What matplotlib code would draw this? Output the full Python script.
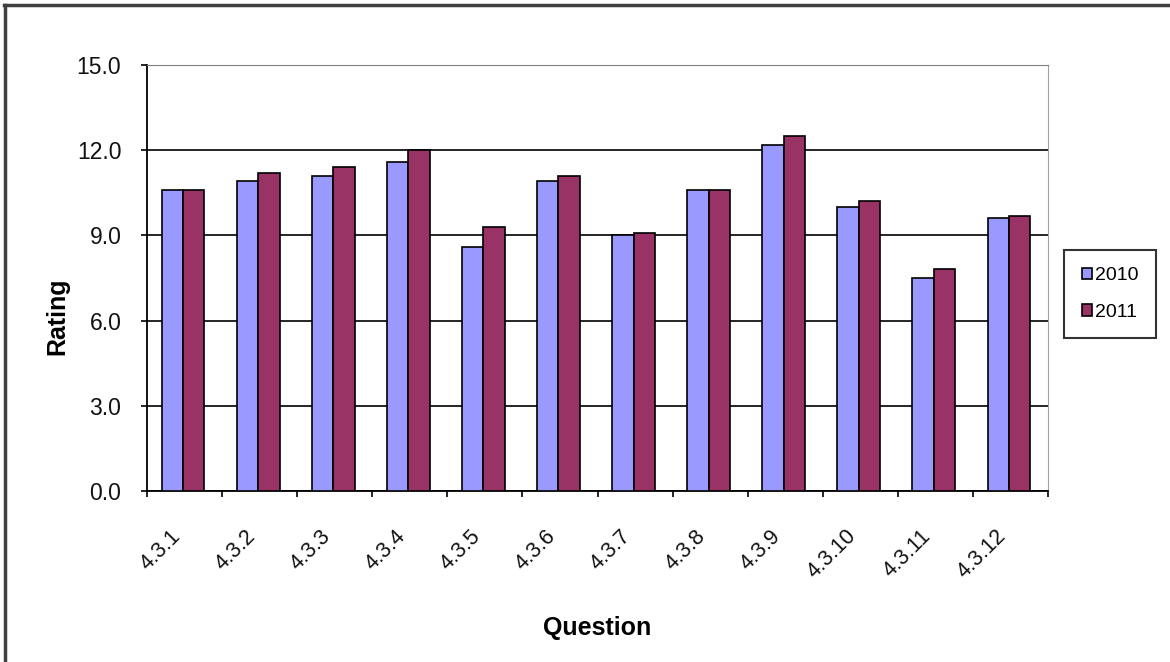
import numpy as np
import matplotlib.pyplot as plt
from matplotlib.lines import Line2D

plt.rcParams['font.family'] = ['Liberation Sans', 'DejaVu Sans']

# Data
questions = ['4.3.1', '4.3.2', '4.3.3', '4.3.4', '4.3.5', '4.3.6',
             '4.3.7', '4.3.8', '4.3.9', '4.3.10', '4.3.11', '4.3.12']
rating_2010 = [10.6, 10.9, 11.1, 11.6, 8.6, 10.9, 9.0, 10.6, 12.2, 10.0, 7.5, 9.6]
rating_2011 = [10.6, 11.2, 11.4, 12.0, 9.3, 11.1, 9.1, 10.6, 12.5, 10.2, 7.8, 9.7]
series_labels = ['2010', '2011']
yticks = [0, 3, 6, 9, 12, 15]

W, H = 1170, 662
fig = plt.figure(figsize=(W / 100, H / 100), dpi=100)
ax = fig.add_axes([147 / W, 1 - 491 / H, (1048 - 147) / W, (491 - 65) / H])

x = np.arange(len(questions))
bw = 0.285
ax.bar(x - bw / 2 - 0.02, rating_2010, bw, color='#9999ff', edgecolor='black',
       linewidth=1.2, label=series_labels[0], zorder=3)
ax.bar(x + bw / 2 - 0.02, rating_2011, bw, color='#993366', edgecolor='black',
       linewidth=1.2, label=series_labels[1], zorder=3)

ax.set_xlim(-0.5, len(questions) - 0.5)
ax.set_ylim(0, 15)
ax.set_yticks(yticks)
ax.set_yticklabels([f'{v:.1f}' for v in yticks])
ax.yaxis.grid(True, color='black', linewidth=1.2, zorder=0)

# major ticks on category borders, labels on centres
ax.set_xticks(np.arange(-0.5, len(questions), 1.0))
ax.set_xticklabels([])
ax.set_xticks(x, minor=True)
ax.set_xticklabels(questions, minor=True, rotation=45, ha='right', va='top',
                   fontsize=15.5, color='#111111')
ax.tick_params(axis='x', which='major', direction='out', length=4.5, width=1.2)
ax.tick_params(axis='x', which='minor', length=0, pad=25)
ax.tick_params(axis='y', direction='out', length=4.5, width=1.2, pad=14,
               labelsize=16.5, labelcolor='#111111')

ax.spines['left'].set_linewidth(1.3)
ax.spines['bottom'].set_linewidth(1.3)
ax.spines['top'].set_color('#808080')
ax.spines['right'].set_color('#a0a0a0')

ax.set_ylabel('Rating', fontsize=18, fontweight='bold')
ax.yaxis.set_label_coords(-(147 - 57) / 901, (491 - 316) / 426)
ax.yaxis.label.set_va('center')
ax.set_xlabel('Question', fontsize=18, fontweight='bold')
ax.xaxis.set_label_coords(0.5, -(628 - 491) / 426)
ax.xaxis.label.set_va('center')

leg = fig.legend(loc='center left', bbox_to_anchor=(1064 / W, 1 - 294 / H),
                 fontsize=14, frameon=True, fancybox=False, edgecolor='black',
                 handlelength=0.55, handleheight=0.55, handletextpad=0.15,
                 labelspacing=1.0, borderpad=0.9, borderaxespad=0)
leg.get_frame().set_linewidth(1.5)

# chart area border (top / left edges visible)
fig.add_artist(Line2D([4 / W, 1], [1 - 5 / H, 1 - 5 / H], transform=fig.transFigure,
                      color='#404040', linewidth=2.5))
fig.add_artist(Line2D([5 / W, 5 / W], [0, 1 - 5 / H], transform=fig.transFigure,
                      color='#404040', linewidth=2.5))

plt.savefig('out.png', dpi=100)
